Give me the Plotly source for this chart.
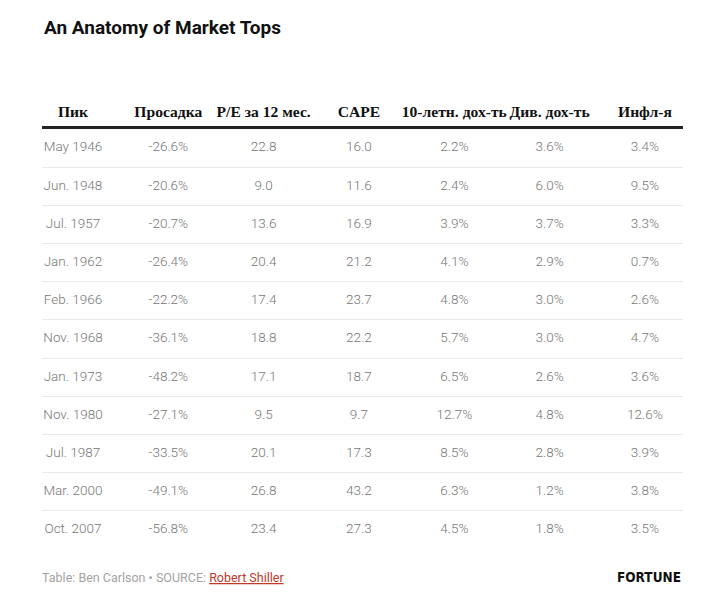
import plotly.graph_objects as go

# table data
columns = ["Пик", "Просадка", "P/E за 12 мес.", "CAPE", "10-летн. дох-ть", "Див. дох-ть", "Инфл-я"]
peaks = ["May 1946", "Jun. 1948", "Jul. 1957", "Jan. 1962", "Feb. 1966", "Nov. 1968",
         "Jan. 1973", "Nov. 1980", "Jul. 1987", "Mar. 2000", "Oct. 2007"]
drawdown = ["-26.6%", "-20.6%", "-20.7%", "-26.4%", "-22.2%", "-36.1%",
            "-48.2%", "-27.1%", "-33.5%", "-49.1%", "-56.8%"]
pe_12m = ["22.8", "9.0", "13.6", "20.4", "17.4", "18.8", "17.1", "9.5", "20.1", "26.8", "23.4"]
cape = ["16.0", "11.6", "16.9", "21.2", "23.7", "22.2", "18.7", "9.7", "17.3", "43.2", "27.3"]
yield_10y = ["2.2%", "2.4%", "3.9%", "4.1%", "4.8%", "5.7%", "6.5%", "12.7%", "8.5%", "6.3%", "4.5%"]
div_yield = ["3.6%", "6.0%", "3.7%", "2.9%", "3.0%", "3.0%", "2.6%", "4.8%", "2.8%", "1.2%", "1.8%"]
inflation = ["3.4%", "9.5%", "3.3%", "0.7%", "2.6%", "4.7%", "3.6%", "12.6%", "3.9%", "3.8%", "3.5%"]

values = [peaks, drawdown, pe_12m, cape, yield_10y, div_yield, inflation]

fig = go.Figure()
for col, vals in zip(columns, values):
    fig.add_trace(go.Scatter(
        x=[col] * len(peaks),
        y=peaks,
        text=vals,
        mode="text",
        textposition="middle center",
        textfont=dict(family="Roboto", size=13.5, color="#777777", weight=300),
        hoverinfo="skip",
        showlegend=False,
    ))

fig.update_layout(
    width=705,
    height=603,
    margin=dict(l=42, r=22, t=129, b=56),
    paper_bgcolor="white",
    plot_bgcolor="white",
    title=dict(
        text="<b>An Anatomy of Market Tops</b>",
        x=44 / 705, xanchor="left",
        y=1 - 27 / 603, yanchor="middle",
        font=dict(family="Roboto", size=19, color="#111"),
    ),
    xaxis=dict(
        type="category",
        categoryorder="array",
        categoryarray=columns,
        side="top",
        range=[-0.325, 6.399],
        showgrid=False,
        zeroline=False,
        showline=True,
        linewidth=3,
        linecolor="#222",
        ticks="",
        tickangle=0,
        ticklabelstandoff=3,
        tickfont=dict(family="Liberation Serif", size=15.6, color="#111", weight="bold"),
        fixedrange=True,
    ),
    yaxis=dict(
        type="category",
        categoryorder="array",
        categoryarray=peaks,
        range=[10.45, -0.5],
        tickson="boundaries",
        showgrid=True,
        gridcolor="#e9e9e9",
        gridwidth=1,
        showticklabels=False,
        ticks="",
        zeroline=False,
        showline=False,
        fixedrange=True,
    ),
    annotations=[
        dict(
            text='Table: Ben Carlson • SOURCE: <span style="color:#c0392b;text-decoration:underline">Robert Shiller</span>',
            xref="paper", yref="paper",
            x=-2 / 641, y=-30 / 418,
            xanchor="left", yanchor="middle",
            showarrow=False,
            font=dict(family="Roboto", size=12.5, color="#a3a3a3"),
        ),
        dict(
            text="<b>FORTUNE</b>",
            xref="paper", yref="paper",
            x=1, y=-30 / 418,
            xanchor="right", yanchor="middle",
            showarrow=False,
            font=dict(family="DejaVu Sans Condensed", size=13.5, color="#111"),
        ),
    ],
)

# drop the browser's default page margin so the figure sits at the window's top-left
fig.write_html("out.html", config={"displayModeBar": False},
               post_script="document.body.style.margin='0';")
